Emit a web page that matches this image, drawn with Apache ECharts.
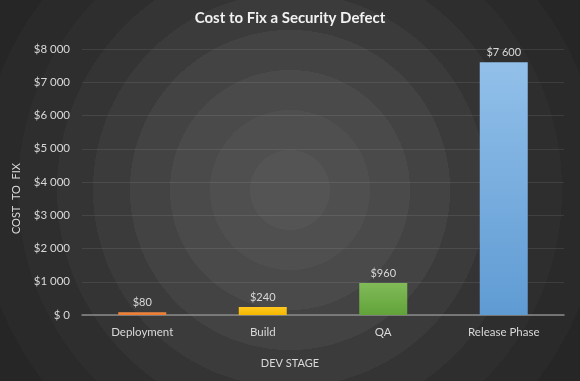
<!DOCTYPE html>
<html>
<head>
<meta charset="utf-8">
<script src="https://cdn.jsdelivr.net/npm/echarts@6/dist/echarts.min.js"></script>
<style>
html,body{margin:0;padding:0;background:#262626;}
#chart{width:580px;height:381px;
background: radial-gradient(circle at 290px 190px,
 #545454 0px, #545454 40px,
 #4f4f4f 40px, #4f4f4f 80px,
 #4a4a4a 80px, #4a4a4a 120px,
 #434343 120px, #434343 160px,
 #3b3b3b 160px, #3b3b3b 197px,
 #343434 197px, #343434 233px,
 #2e2e2e 233px, #2e2e2e 272px,
 #2a2a2a 272px, #2a2a2a 312px,
 #262626 312px);}
</style>
</head>
<body>
<div id="chart"></div>
<script>
const categories = ["Deployment", "Build", "QA", "Release Phase"];
const costValues = [80, 240, 960, 7600];
const yTicks = [0, 1000, 2000, 3000, 4000, 5000, 6000, 7000, 8000];
const chartTitle = "Cost to Fix a Security Defect";
const xAxisName = "DEV STAGE";
const yAxisName = "COST  TO  FIX";

const barColors = [
  ["#f08a42", "#e8772c"],
  ["#ffc820", "#f5b800"],
  ["#80bb58", "#62a33a"],
  ["#92c0ea", "#5f9bd3"]
];

function money(v) {
  if (v === 0) return "$ 0";
  return "$" + String(v).replace(/\B(?=(\d{3})+(?!\d))/g, " ");
}

const FONT = "Lato, 'Open Sans', sans-serif";
const chart = echarts.init(document.getElementById("chart"), null, {renderer: "canvas"});
chart.setOption({
  backgroundColor: "transparent",
  animation: false,
  textStyle: {fontFamily: FONT},
  title: {
    text: chartTitle,
    left: "center",
    top: 6,
    textStyle: {color: "#f2f2f2", fontSize: 15, fontWeight: "bold", fontFamily: FONT}
  },
  grid: {left: 82, right: 16, top: 49, bottom: 66},
  xAxis: {
    type: "category",
    data: categories,
    axisLine: {lineStyle: {color: "#8a8a8a", width: 1.5}},
    axisTick: {show: false},
    axisLabel: {color: "#d9d9d9", fontSize: 11.5, margin: 11, fontFamily: FONT}
  },
  yAxis: {
    type: "value",
    min: yTicks[0],
    max: yTicks[yTicks.length - 1],
    interval: yTicks[1] - yTicks[0],
    axisLine: {show: false},
    axisTick: {show: false},
    splitLine: {lineStyle: {color: "rgba(255,255,255,0.09)", width: 1}},
    axisLabel: {color: "#d9d9d9", fontSize: 11.5, margin: 12, fontFamily: FONT, formatter: money}
  },
  graphic: [
    {
      type: "text",
      left: 11, top: 163,
      rotation: Math.PI / 2,
      style: {text: yAxisName, fill: "#d9d9d9", fontSize: 11, fontFamily: FONT},
      originX: 0, originY: 0
    },
    {
      type: "text",
      left: "center", top: 358,
      style: {text: xAxisName, fill: "#d9d9d9", fontSize: 11, fontFamily: FONT}
    }
  ],
  series: [{
    type: "bar",
    barWidth: 48,
    data: costValues.map((v, i) => ({
      value: v,
      itemStyle: {
        color: new echarts.graphic.LinearGradient(0, 0, 0, 1, [
          {offset: 0, color: barColors[i][0]},
          {offset: 1, color: barColors[i][1]}
        ])
      }
    })),
    label: {
      show: true,
      position: "top",
      distance: 4,
      color: "#d9d9d9",
      fontSize: 11,
      fontFamily: FONT,
      formatter: p => money(p.value)
    }
  }]
});
</script>
</body>
</html>
